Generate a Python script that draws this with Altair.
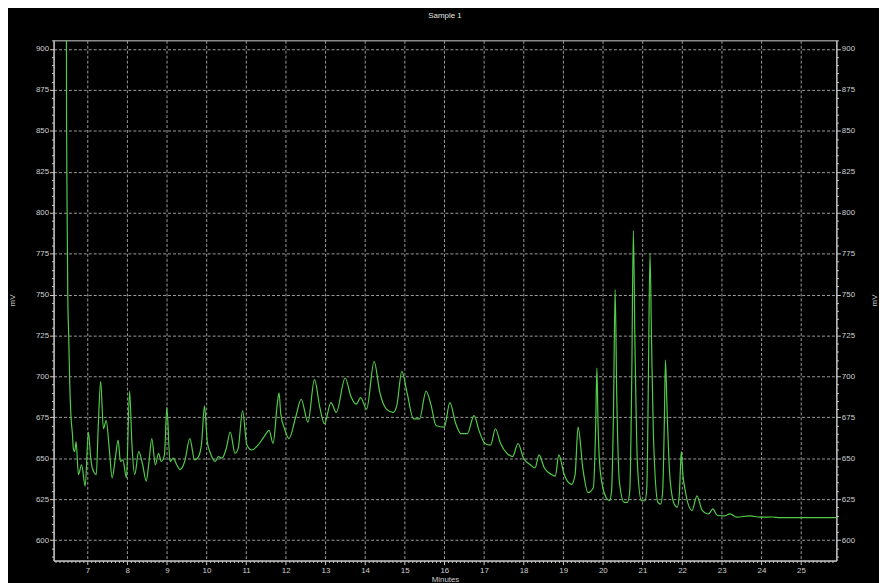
import altair as alt
import pandas as pd

# Chromatogram trace (minutes, mV)
minutes = [6.46, 6.47, 6.48, 6.50, 6.525, 6.55, 6.58, 6.62, 6.64, 6.675, 6.71, 6.77, 6.85, 6.94,
           7.02, 7.08, 7.12, 7.22, 7.27, 7.33, 7.40, 7.47, 7.55, 7.62, 7.70, 7.77, 7.83, 7.89, 7.98,
           8.06, 8.12, 8.19, 8.29, 8.39, 8.48, 8.55, 8.62, 8.71, 8.79, 8.86, 8.94,
           9.00, 9.08, 9.16, 9.25, 9.33, 9.45, 9.58, 9.70, 9.80, 9.88, 9.95,
           10.02, 10.10, 10.22, 10.30, 10.39, 10.50, 10.60, 10.72, 10.80, 10.91,
           11.02, 11.14, 11.30, 11.45, 11.58, 11.68, 11.79, 11.83, 11.875, 11.97,
           12.08, 12.25, 12.39, 12.56, 12.725, 12.86, 12.975,
           13.14, 13.275, 13.50, 13.64, 13.775, 13.89,
           14.04, 14.23, 14.375, 14.54, 14.71, 14.80, 14.93,
           15.06, 15.225, 15.375, 15.54, 15.67, 15.79,
           16.00, 16.14, 16.29, 16.42, 16.58, 16.75, 16.875,
           17.025, 17.17, 17.29, 17.42, 17.58, 17.725, 17.86,
           18.00, 18.17, 18.29, 18.39, 18.525, 18.71, 18.80, 18.89,
           19.025, 19.21, 19.30, 19.375, 19.50, 19.625, 19.76, 19.82, 19.85, 19.88, 19.94,
           20.08, 20.17, 20.22, 20.27, 20.31, 20.35, 20.42, 20.54, 20.62, 20.68, 20.73, 20.77,
           20.81, 20.875, 20.975, 21.06, 21.11, 21.15, 21.19, 21.23, 21.275, 21.39, 21.46,
           21.51, 21.55, 21.58, 21.62, 21.69, 21.80, 21.875, 21.93, 21.96, 21.98,
           22.02, 22.08, 22.25, 22.375, 22.50, 22.67, 22.775, 22.89,
           23.08, 23.21, 23.375, 23.71, 23.96, 24.29, 24.46, 25.86, 25.90]
mv = [1000, 860, 814, 751, 724, 696, 676, 664, 656, 654, 660, 640, 646, 633,
      666, 650, 644, 640, 670, 697, 668, 673, 655, 638, 650, 661, 648, 649, 638,
      691, 658, 640, 654, 646, 636, 648, 662, 646, 653, 648, 652,
      681, 648, 650, 646, 643, 648, 662, 649, 651, 660, 682,
      660, 653, 648, 651, 650, 656, 666, 653, 656, 679,
      658, 655, 658, 663, 667, 659, 684, 690, 677, 668,
      662, 675, 686, 672, 698, 681, 671,
      684, 678, 699, 688, 683, 687,
      680, 709, 690, 680, 678, 682, 703,
      690, 674, 674, 691, 682, 670,
      669, 684, 671, 665, 665, 676, 667,
      659, 658, 668, 659, 653, 651, 659,
      650, 646, 644, 652, 644, 640, 639, 652,
      640, 634, 640, 669, 643, 629, 632, 670, 705, 670, 641,
      626, 624, 630, 680, 753, 690, 635, 623, 623, 630, 700, 789,
      720, 645, 624, 624, 632, 700, 775, 720, 665, 623, 622,
      630, 670, 710, 680, 639, 622, 620, 628, 645, 654,
      640, 630, 618, 627, 618.5, 616, 619, 615,
      614.8, 616, 614, 614.8, 614, 614.1, 613.7, 613.7, 613.7]

# Axis ticks
x_major = list(range(7, 26))
y_major = list(range(600, 901, 25))
x_minor = [round(6.2 + 0.1 * i, 1) for i in range(197)]
y_minor = list(range(590, 906, 5))

df = pd.DataFrame({"t": minutes, "v": mv})

X_DOMAIN = [6.1425, 25.8925]
Y_DOMAIN = [587.47, 905.27]

FG = "#cfcfcf"
GRID = "#9c9c9c"
FONT = "Liberation Sans"

x_is_major = "abs(datum.value - round(datum.value)) < 0.01"
y_is_major = "datum.value % 25 === 0"

x_axis = alt.Axis(
    values=x_minor, tickCount=1000,
    labelExpr=f"{x_is_major} ? format(datum.value, 'd') : ''",
    labelOverlap=False, labelFlush=False,
    tickSize={"condition": {"test": x_is_major, "value": 4}, "value": 2},
    grid=True,
    gridOpacity={"condition": {"test": x_is_major, "value": 1}, "value": 0},
    gridColor=GRID, gridDash=[3, 2], gridWidth=1,
    domainColor=FG, tickColor=FG, labelColor=FG,
    labelFont=FONT, labelFontSize=8, labelPadding=2,
    title="Minutes", titleColor=FG, titleFont=FONT, titleFontSize=8,
    titleFontWeight="normal", titleX=395, titleY=15, titleBaseline="top",
    titleAlign="center",
)

y_axis_left = alt.Axis(
    values=y_minor, orient="left", tickCount=1000,
    labelExpr=f"{y_is_major} ? format(datum.value, 'd') : ''",
    labelOverlap=False, labelFlush=False,
    tickSize={"condition": {"test": y_is_major, "value": 4}, "value": 2},
    grid=True,
    gridOpacity={"condition": {"test": y_is_major, "value": 1}, "value": 0},
    gridColor=GRID, gridDash=[3, 2], gridWidth=1,
    domainColor=FG, tickColor=FG, labelColor=FG,
    labelFont=FONT, labelFontSize=8, labelPadding=1,
    title="mV", titleColor=FG, titleFont=FONT, titleFontSize=8,
    titleFontWeight="normal", titleAngle=270, titleX=-41, titleY=262,
    titleAlign="center", titleBaseline="middle",
)

y_axis_right = alt.Axis(
    values=y_minor, orient="right", tickCount=1000,
    labelExpr=f"{y_is_major} ? format(datum.value, 'd') : ''",
    labelOverlap=False, labelFlush=False,
    tickSize={"condition": {"test": y_is_major, "value": 4}, "value": 2},
    grid=False,
    domainColor=FG, tickColor=FG, labelColor=FG,
    labelFont=FONT, labelFontSize=8, labelPadding=1,
    title="mV", titleColor=FG, titleFont=FONT, titleFontSize=8,
    titleFontWeight="normal", titleAngle=270, titleX=38, titleY=262,
    titleAlign="center", titleBaseline="middle",
)

xs = alt.Scale(domain=X_DOMAIN, zero=False, nice=False)
ys = alt.Scale(domain=Y_DOMAIN, zero=False, nice=False)

trace = alt.Chart(df).mark_line(
    color="#52cc48", strokeWidth=1.2, interpolate="monotone", clip=True
).encode(
    x=alt.X("t:Q", scale=xs, axis=x_axis),
    y=alt.Y("v:Q", scale=ys, axis=y_axis_left),
)

right = alt.Chart(df).mark_line(opacity=0, clip=True).encode(
    x=alt.X("t:Q", scale=xs),
    y=alt.Y("v:Q", scale=ys, axis=y_axis_right),
)

chart = alt.layer(trace, right).resolve_axis(y="independent").properties(
    width=790, height=525,
    padding={"left": 46, "top": 30, "right": 43, "bottom": 20},
    autosize=alt.AutoSizeParams(type="none"),
    background="black",
    title=alt.TitleParams("Sample 1", color="#e0e0e0", font=FONT, fontSize=8,
                          fontWeight="normal", anchor="middle", offset=17),
).configure_view(stroke=FG, strokeWidth=1, fill="black")

chart.save("out.html", embed_options={"renderer": "svg", "actions": False})
